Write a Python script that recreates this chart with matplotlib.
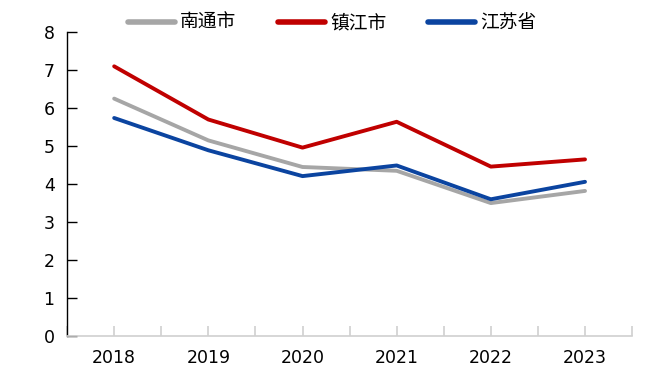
import matplotlib
matplotlib.use("Agg")
import matplotlib.pyplot as plt
from matplotlib.lines import Line2D
import numpy as np

years = ["2018", "2019", "2020", "2021", "2022", "2023"]
nantong = [6.25, 5.15, 4.45, 4.35, 3.50, 3.82]
zhenjiang = [7.10, 5.70, 4.96, 5.64, 4.46, 4.65]
jiangsu = [5.74, 4.89, 4.21, 4.49, 3.60, 4.06]
series_names = ["南通市", "镇江市", "江苏省"]
yticks = [0, 1, 2, 3, 4, 5, 6, 7, 8]

plt.rcParams['font.family'] = ['DejaVu Sans', 'Noto Sans CJK SC']

W, H = 645, 378
fig = plt.figure(figsize=(W / 100, H / 100), dpi=100)
ax = fig.add_axes([0.104, 0.111, 0.876, 0.804])

x = np.arange(len(years))
colors = ["#A6A6A6", "#C00000", "#0B44A0"]
for vals, name, c in zip([nantong, zhenjiang, jiangsu], series_names, colors):
    ax.plot(x, vals, color=c, lw=2.8, label=name, solid_capstyle='round')

ax.set_xlim(-0.5, len(years) - 0.5)
ax.set_ylim(0, 8)
ax.set_yticks(yticks)
ax.set_yticklabels([str(v) for v in yticks], fontsize=12.5)
ax.set_xticks(x)
ax.set_xticklabels(years, fontsize=12.5)
ax.set_xticks(np.arange(-0.5, len(years), 1.0), minor=True)

for s in ["top", "right"]:
    ax.spines[s].set_visible(False)
ax.spines["left"].set_color("#000000")
ax.spines["left"].set_linewidth(1.0)
ax.spines["bottom"].set_color("#D0D0D0")
ax.spines["bottom"].set_linewidth(1.2)

ax.tick_params(axis='y', direction='in', length=7, width=1.0, color='#000000', pad=9)
ax.tick_params(axis='x', which='both', direction='in', length=7, width=1.2, color='#D0D0D0', pad=9)

# manual legend (figure coordinates)
leg_y = 1 - 22 / H
top_y = 1 - 12 / H
starts = [128, 278, 428]
for sx, name, c in zip(starts, series_names, colors):
    fig.add_artist(Line2D([sx / W, (sx + 47) / W], [leg_y, leg_y], transform=fig.transFigure,
                          color=c, lw=4, solid_capstyle='round'))
    fig.text((sx + 52) / W, top_y, name, fontsize=13.5, family=['Noto Sans CJK SC'],
             va='top', ha='left')

fig.savefig("out.png", dpi=100)
